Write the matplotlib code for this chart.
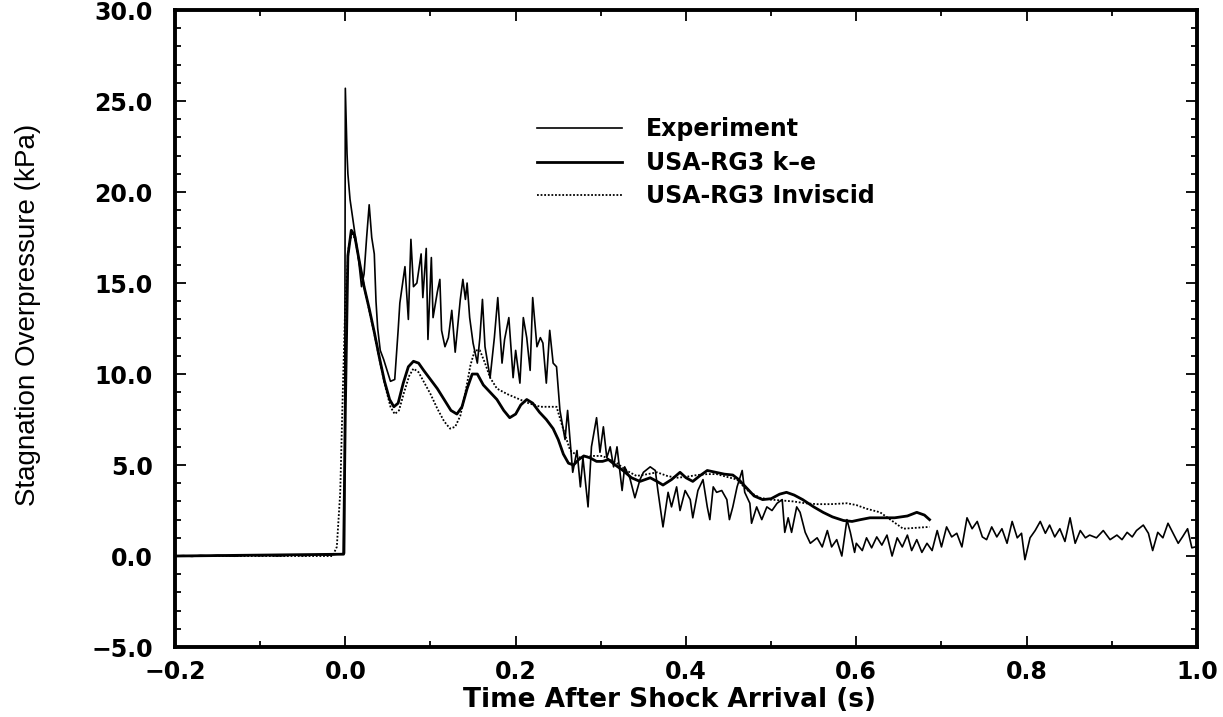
"""Stagnation overpressure: experiment vs USA-RG3 k-e and inviscid runs."""

import matplotlib
matplotlib.use('Agg')
import matplotlib.pyplot as plt
from matplotlib.ticker import MultipleLocator, FuncFormatter

# --- data --------------------------------------------------------------------
exp_t = [-0.200, -0.190, -0.180, -0.170, -0.160, -0.150, -0.140, -0.130, -0.120,
         -0.110, -0.100, -0.090, -0.080, -0.070, -0.060, -0.050, -0.040, -0.030,
         -0.020, -0.010, -0.004, -0.001,
         0.000, 0.002, 0.003, 0.0055, 0.008, 0.011, 0.015, 0.019, 0.022, 0.025,
         0.028, 0.031, 0.034, 0.036, 0.038, 0.041, 0.045, 0.049, 0.053, 0.058,
         0.062, 0.064, 0.070, 0.074, 0.077, 0.080, 0.084, 0.089, 0.091, 0.095,
         0.097, 0.101, 0.103, 0.108, 0.111, 0.113, 0.117, 0.121, 0.125, 0.129,
         0.135, 0.138, 0.141, 0.143, 0.146, 0.150, 0.155, 0.158, 0.161, 0.164,
         0.170, 0.175, 0.179, 0.184, 0.187, 0.192, 0.197, 0.200, 0.205, 0.209,
         0.213, 0.217, 0.220, 0.225, 0.229, 0.232, 0.236, 0.240, 0.244, 0.248,
         0.252, 0.258, 0.261, 0.267, 0.272, 0.276, 0.279, 0.285, 0.289, 0.295,
         0.299, 0.303, 0.307, 0.311, 0.315, 0.319, 0.325, 0.328, 0.334, 0.340,
         0.346, 0.350, 0.358, 0.364, 0.367, 0.373, 0.379, 0.383, 0.389, 0.393,
         0.399, 0.405, 0.408, 0.414, 0.420, 0.425, 0.428, 0.432, 0.436, 0.442,
         0.448, 0.451, 0.455, 0.460, 0.466, 0.469, 0.475, 0.477, 0.483, 0.489,
         0.495, 0.501, 0.507, 0.513, 0.516, 0.520, 0.524, 0.530, 0.534, 0.540,
         0.546, 0.554, 0.560, 0.566, 0.571, 0.577, 0.583, 0.589, 0.593, 0.598,
         0.600, 0.607, 0.612, 0.618, 0.624, 0.630, 0.636, 0.642, 0.648, 0.654,
         0.660, 0.665, 0.671, 0.677, 0.683, 0.689, 0.695, 0.700, 0.706, 0.712,
         0.718, 0.724, 0.730, 0.736, 0.742, 0.748, 0.753, 0.759, 0.765, 0.771,
         0.777, 0.783, 0.789, 0.794, 0.798, 0.804, 0.810, 0.816, 0.822, 0.827,
         0.833, 0.839, 0.845, 0.851, 0.857, 0.863, 0.869, 0.874, 0.882, 0.890,
         0.898, 0.906, 0.912, 0.918, 0.924, 0.929, 0.937, 0.943, 0.948, 0.954,
         0.960, 0.966, 0.972, 0.978, 0.983, 0.989, 0.994, 0.998]
exp_p = [0.00, 0.02, -0.02, 0.03, 0.00, 0.04, 0.01, -0.01, 0.03, 0.05,
         0.02, 0.04, 0.00, 0.03, 0.06, 0.02, 0.05, 0.08, 0.04, 0.10, 0.12, 0.15,
         25.7, 22.1, 21.0, 19.6, 18.8, 17.8, 16.5, 14.8, 15.5, 17.5,
         19.3, 17.5, 16.6, 14.0, 12.5, 11.3, 10.8, 10.2, 9.6, 9.7,
         12.4, 13.9, 15.9, 13.0, 17.4, 14.8, 15.0, 16.6, 14.2, 16.9,
         11.9, 16.4, 13.1, 14.5, 15.2, 12.4, 11.5, 12.0, 13.5, 11.2,
         14.1, 15.2, 14.1, 15.0, 13.1, 11.7, 10.6, 12.0, 14.1, 11.5,
         9.8, 12.0, 14.2, 10.6, 11.9, 13.1, 9.8, 11.3, 9.5, 13.1,
         12.0, 10.2, 14.2, 11.5, 12.0, 11.7, 9.5, 12.4, 10.6, 10.4,
         8.0, 6.4, 8.0, 4.6, 5.8, 3.8, 5.4, 2.7, 6.0, 7.6,
         5.7, 7.1, 5.4, 6.0, 4.9, 6.0, 3.6, 4.9, 4.3, 3.2,
         4.2, 4.6, 4.9, 4.7, 3.6, 1.6, 3.5, 2.7, 3.8, 2.5,
         3.6, 3.1, 2.1, 3.6, 4.2, 2.7, 2.0, 3.8, 3.5, 3.6,
         3.1, 2.0, 2.7, 3.8, 4.7, 3.5, 2.9, 1.8, 2.7, 2.0,
         2.7, 2.5, 2.9, 3.1, 1.3, 2.1, 1.3, 2.7, 2.4, 1.3,
         0.7, 1.0, 0.5, 1.4, 0.5, 0.9, 0.0, 2.0, 1.3, 0.2,
         0.7, 0.3, 1.0, 0.45, 1.05, 0.6, 1.15, 0.0, 1.0, 0.5,
         1.15, 0.3, 0.9, 0.2, 0.7, 0.3, 1.4, 0.5, 1.6, 1.05,
         1.25, 0.5, 2.1, 1.5, 1.9, 1.05, 0.9, 1.6, 1.05, 1.5,
         0.7, 1.9, 1.0, 1.25, -0.2, 1.0, 1.4, 1.9, 1.25, 1.7,
         1.05, 1.5, 0.8, 2.1, 0.7, 1.4, 1.0, 1.15, 1.0, 1.4,
         0.9, 1.15, 0.9, 1.3, 1.05, 1.4, 1.7, 1.25, 0.3, 1.3,
         1.0, 1.8, 1.25, 0.7, 1.05, 1.5, 0.45, 0.5]

ke_t = [-0.200, -0.002, 0.000, 0.003, 0.007, 0.011, 0.016, 0.022, 0.028, 0.034,
        0.040, 0.046, 0.052, 0.057, 0.062, 0.068, 0.074, 0.080, 0.086, 0.092,
        0.100, 0.108, 0.116, 0.124, 0.131, 0.137, 0.143, 0.149, 0.155, 0.162,
        0.170, 0.178, 0.186, 0.193, 0.200, 0.206, 0.213, 0.220, 0.228, 0.236,
        0.244, 0.250, 0.256, 0.262, 0.268, 0.274, 0.280, 0.287, 0.295, 0.302,
        0.309, 0.317, 0.326, 0.336, 0.346, 0.358, 0.366, 0.373, 0.383, 0.393,
        0.400, 0.408, 0.416, 0.425, 0.435, 0.445, 0.455, 0.462, 0.470, 0.480,
        0.490, 0.500, 0.510, 0.518, 0.527, 0.537, 0.550, 0.561, 0.572, 0.585,
        0.595, 0.605, 0.616, 0.630, 0.645, 0.660, 0.671, 0.680, 0.686]
ke_p = [0.0, 0.1, 8.0, 16.5, 17.9, 17.6, 16.3, 14.8, 13.6, 12.3,
        10.9, 9.6, 8.6, 8.2, 8.4, 9.5, 10.4, 10.7, 10.6, 10.2,
        9.7, 9.2, 8.6, 8.0, 7.8, 8.2, 9.2, 10.0, 10.0, 9.4,
        9.0, 8.6, 8.0, 7.6, 7.8, 8.3, 8.6, 8.4, 7.9, 7.5,
        7.0, 6.4, 5.6, 5.1, 5.0, 5.3, 5.5, 5.4, 5.2, 5.2,
        5.3, 5.0, 4.7, 4.3, 4.1, 4.3, 4.1, 3.9, 4.2, 4.6,
        4.3, 4.1, 4.4, 4.7, 4.6, 4.5, 4.45, 4.2, 3.8, 3.3,
        3.1, 3.15, 3.4, 3.5, 3.35, 3.1, 2.7, 2.4, 2.15, 1.95,
        1.9, 2.0, 2.1, 2.1, 2.1, 2.2, 2.4, 2.25, 2.0]

inv_t = [-0.200, -0.015, -0.010, -0.006, -0.003, 0.000, 0.004, 0.008, 0.012, 0.017,
         0.023, 0.029, 0.035, 0.041, 0.047, 0.053, 0.058, 0.063, 0.069, 0.075,
         0.080, 0.086, 0.093, 0.100, 0.108, 0.116, 0.123, 0.129, 0.135, 0.141,
         0.147, 0.152, 0.158, 0.164, 0.170, 0.178, 0.190, 0.200, 0.215, 0.229,
         0.248, 0.255, 0.264, 0.276, 0.290, 0.302, 0.319, 0.330, 0.342, 0.355,
         0.366, 0.378, 0.389, 0.400, 0.413, 0.425, 0.436, 0.448, 0.460, 0.468,
         0.475, 0.487, 0.499, 0.513, 0.526, 0.540, 0.554, 0.570, 0.589, 0.600,
         0.612, 0.628, 0.643, 0.655, 0.670, 0.686]
inv_p = [0.0, 0.0, 0.5, 3.5, 9.0, 14.0, 17.0, 17.8, 17.3, 16.0,
         14.6, 13.3, 12.0, 10.6, 9.3, 8.2, 7.8, 8.0, 9.0, 9.9,
         10.3, 10.1, 9.5, 8.9, 8.1, 7.4, 7.0, 7.1, 7.7, 9.0,
         10.5, 11.3, 11.3, 10.6, 9.8, 9.2, 8.9, 8.7, 8.4, 8.2,
         8.2, 7.1, 5.8, 5.4, 5.5, 5.5, 5.1, 4.7, 4.4, 4.5,
         4.6, 4.4, 4.3, 4.35, 4.45, 4.5, 4.5, 4.35, 4.2, 3.8,
         3.5, 3.2, 3.1, 3.05, 3.0, 2.9, 2.85, 2.85, 2.9, 2.8,
         2.6, 2.4, 1.9, 1.5, 1.55, 1.6]

x_ticks = [-0.2, 0.0, 0.2, 0.4, 0.6, 0.8, 1.0]
y_ticks = [-5.0, 0.0, 5.0, 10.0, 15.0, 20.0, 25.0, 30.0]


def one_decimal(v, pos):
    # typeset minus, one decimal place like the original axis labels
    return f'{v:.1f}'.replace('-', '\u2212')


# --- figure ------------------------------------------------------------------
plt.rcParams['font.family'] = ['DejaVu Sans']

fig = plt.figure(figsize=(12.23, 7.17), dpi=100)
ax = fig.add_axes([0.1431, 0.0976, 0.8356, 0.8884])

ax.plot(exp_t, exp_p, color='black', linewidth=1.2, label='Experiment')
ax.plot(ke_t, ke_p, color='black', linewidth=2.0, label='USA-RG3 k\u2013e')
ax.plot(inv_t, inv_p, color='black', linewidth=1.3, linestyle=(0, (1, 1)),
        label='USA-RG3 Inviscid')

ax.set_xlim(-0.2, 1.0)
ax.set_ylim(-5.0, 30.0)
ax.set_xticks(x_ticks)
ax.set_yticks(y_ticks)
ax.xaxis.set_minor_locator(MultipleLocator(0.1))
ax.yaxis.set_minor_locator(MultipleLocator(1.0))
ax.xaxis.set_major_formatter(FuncFormatter(one_decimal))
ax.yaxis.set_major_formatter(FuncFormatter(one_decimal))

ax.tick_params(which='both', direction='in', top=True, right=True, width=1.3)
ax.tick_params(which='major', length=8)
ax.tick_params(which='minor', length=4)
ax.tick_params(axis='y', which='major', pad=16, labelsize=17)
ax.tick_params(axis='x', which='major', pad=9, labelsize=17)
for lbl in ax.get_xticklabels() + ax.get_yticklabels():
    lbl.set_fontweight('bold')

for spine in ax.spines.values():
    spine.set_linewidth(2.8)

ax.set_xlabel('Time After Shock Arrival (s)', fontsize=19, fontweight='bold')
ax.set_ylabel('Stagnation Overpressure (kPa)', fontsize=20,
              family=['Liberation Sans', 'DejaVu Sans'])
ax.xaxis.set_label_coords(0.484, -0.063)
ax.yaxis.set_label_coords(-0.131, 0.521)

leg = ax.legend(loc='upper left', bbox_to_anchor=(0.343, 0.85), frameon=False,
                handlelength=3.6, handletextpad=1.0, labelspacing=0.4,
                borderpad=0.0, prop={'size': 17, 'weight': 'bold'})

plt.savefig('out.png', dpi=100)
plt.close()
